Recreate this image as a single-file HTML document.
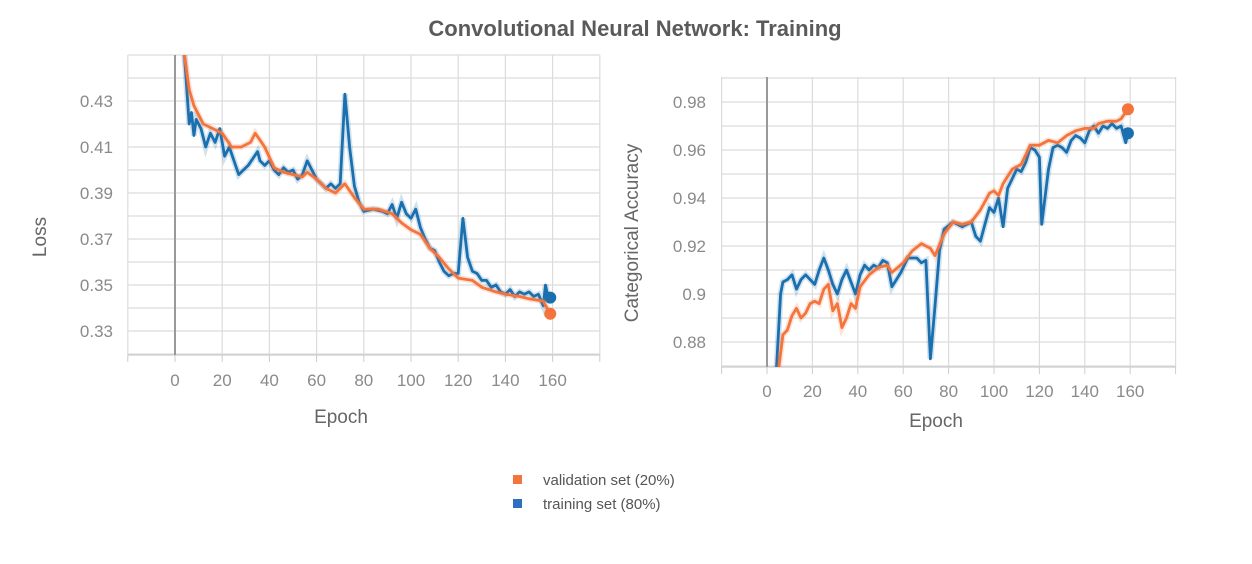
<!DOCTYPE html>
<html><head><meta charset="utf-8"><style>
body{margin:0;background:#fff;width:1252px;height:559px;overflow:hidden;font-family:"Liberation Sans",sans-serif}
svg text{font-family:"Liberation Sans",sans-serif}
</style></head><body>
<svg id="s" width="1252" height="559">
<text x="635" y="36" text-anchor="middle" font-size="22" font-weight="bold" fill="#5a5a5a">Convolutional Neural Network: Training</text>
<g>
<rect x="513" y="475" width="9" height="9" fill="#f4743b"/>
<text x="543" y="485" font-size="15" fill="#555">validation set (20%)</text>
<rect x="513" y="499" width="9" height="9" fill="#2f6fc0"/>
<text x="543" y="509" font-size="15" fill="#555">training set (80%)</text>
</g>
</svg>
<script>
const xTicks=[0,20,40,60,80,100,120,140,160];
const lossTicks=[0.33,0.35,0.37,0.39,0.41,0.43];
const accTicks=[0.88,0.9,0.92,0.94,0.96,0.98];
const accTickLabels=["0.88","0.9","0.92","0.94","0.96","0.98"];
const lossValEpochs=[4,6,8,12,16,20,24,28,32,34,38,42,46,50,54,56,60,64,68,72,76,80,86,92,96,100,104,108,112,116,120,126,130,136,140,146,150,156,159];
const lossVal=[0.45,0.435,0.428,0.42,0.418,0.416,0.41,0.41,0.412,0.416,0.41,0.401,0.399,0.398,0.397,0.399,0.396,0.392,0.39,0.394,0.388,0.383,0.383,0.381,0.377,0.374,0.372,0.366,0.362,0.357,0.353,0.352,0.349,0.347,0.346,0.345,0.344,0.343,0.3375];
const lossTrainEpochs=[4,6,7,8,9,11,13,15,17,19,21,23,25,27,29,31,33,35,36,38,40,42,44,46,48,50,52,54,56,58,60,62,64,66,68,70,72,74,76,78,80,84,88,90,92,94,96,98,100,102,104,106,108,110,112,114,116,118,120,122,124,126,128,130,132,134,136,138,140,142,144,146,148,150,152,154,156,157,158,159];
const lossTrain=[0.45,0.42,0.425,0.415,0.422,0.418,0.41,0.416,0.412,0.418,0.406,0.41,0.404,0.398,0.4,0.402,0.405,0.408,0.404,0.402,0.404,0.4,0.398,0.401,0.399,0.4,0.396,0.398,0.404,0.4,0.396,0.394,0.392,0.394,0.392,0.394,0.433,0.41,0.393,0.386,0.382,0.383,0.382,0.381,0.385,0.379,0.386,0.381,0.379,0.383,0.375,0.37,0.366,0.365,0.36,0.356,0.354,0.355,0.355,0.379,0.362,0.356,0.355,0.352,0.352,0.349,0.35,0.347,0.346,0.348,0.345,0.347,0.346,0.347,0.345,0.346,0.341,0.35,0.345,0.3445];
const accTrainEpochs=[4,6,7,9,11,13,15,17,19,21,23,25,27,29,31,33,35,37,39,41,43,45,47,49,51,53,55,57,59,62,66,68,70,72,74,76,78,82,86,90,92,94,96,98,100,102,104,106,108,110,112,114,116,118,120,121,124,126,128,130,132,134,136,138,140,142,144,146,148,150,152,154,156,158,159];
const accTrain=[0.866,0.9,0.905,0.906,0.908,0.902,0.906,0.908,0.906,0.904,0.91,0.915,0.91,0.904,0.9,0.906,0.91,0.905,0.9,0.908,0.912,0.91,0.912,0.911,0.914,0.913,0.903,0.906,0.909,0.915,0.915,0.913,0.914,0.873,0.895,0.918,0.927,0.93,0.928,0.93,0.924,0.922,0.929,0.936,0.934,0.94,0.928,0.944,0.948,0.952,0.951,0.955,0.961,0.96,0.957,0.929,0.952,0.961,0.962,0.961,0.959,0.964,0.966,0.965,0.963,0.968,0.97,0.967,0.97,0.969,0.971,0.969,0.97,0.963,0.967];
const accValEpochs=[5,7,9,11,13,15,17,19,21,23,25,27,29,31,33,35,37,39,41,45,49,53,55,60,64,68,72,74,78,82,86,90,94,98,100,102,104,108,112,116,120,124,128,132,136,140,144,146,150,154,156,159];
const accVal=[0.868,0.883,0.885,0.891,0.894,0.89,0.892,0.896,0.897,0.896,0.902,0.904,0.893,0.896,0.886,0.89,0.896,0.894,0.903,0.908,0.911,0.912,0.909,0.913,0.918,0.921,0.919,0.916,0.925,0.93,0.929,0.93,0.935,0.942,0.943,0.941,0.946,0.952,0.954,0.962,0.962,0.964,0.963,0.966,0.968,0.969,0.969,0.971,0.972,0.972,0.973,0.977];

const NS="http://www.w3.org/2000/svg";
const svg=document.getElementById('s');
function mk(tag,attrs,parent){const e=document.createElementNS(NS,tag);for(const k in attrs)e.setAttribute(k,attrs[k]);(parent||svg).appendChild(e);return e;}
const ORANGE="#f4743b",BLUE="#1a6fae";

function chart(cfg){
  const g=mk('g',{});
  
  
  const X=e=>cfg.x0+(e-0)*cfg.kx;
  const Y=v=>cfg.yRef-(v-cfg.vRef)*cfg.ky;
  const L=X(-20),R=X(180);
  // horizontal grid
  for(let v=cfg.vMin;v<=cfg.vMax+1e-9;v+=0.01){
    const y=Y(v); if(y<cfg.top-1||y>cfg.bottom+1)continue;
    mk('line',{x1:L,x2:R,y1:y,y2:y,stroke:'#dcdcdc','stroke-width':1.2},g);
  }
  for(let e=-20;e<=180;e+=20){
    const x=X(e);
    mk('line',{x1:x,x2:x,y1:cfg.top,y2:cfg.bottom,stroke:'#dcdcdc','stroke-width':1.2},g);
    mk('line',{x1:x,x2:x,y1:cfg.bottom,y2:cfg.bottom+7,stroke:'#ccc','stroke-width':1},g);
  }
  mk('line',{x1:L,x2:R,y1:cfg.bottom,y2:cfg.bottom,stroke:'#ccc','stroke-width':1.2},g);
  mk('line',{x1:X(0),x2:X(0),y1:cfg.top,y2:cfg.bottom,stroke:'#999','stroke-width':2},g);
  xTicks.forEach(t=>{const tx=mk('text',{x:X(t),y:cfg.bottom+cfg.xLabOff,'text-anchor':'middle','font-size':17,fill:'#8a8a8a'},g);tx.textContent=t;
    
    });
  cfg.yTicks.forEach((t,i)=>{const tx=mk('text',{x:cfg.yLabX,y:Y(t)+6,'text-anchor':'end','font-size':17,fill:'#8a8a8a'},g);tx.textContent=cfg.yLabels?cfg.yLabels[i]:t.toFixed(2);
    
    });
  const xt=mk('text',{x:cfg.xTitleX,y:cfg.xTitleY,'text-anchor':'middle','font-size':19,fill:'#666'},g);xt.textContent='Epoch';
  
  
  const yt=mk('text',{x:0,y:0,'text-anchor':'middle','font-size':19,fill:'#666',transform:`translate(${cfg.yTitleX},${cfg.yTitleY}) rotate(-90)`},g);yt.textContent=cfg.yTitle;
  
  
  const cid=cfg.name+'-clip';
  const cp=mk('clipPath',{id:cid},g);mk('rect',{x:L,y:cfg.top,width:R-L,height:cfg.bottom-cfg.top},cp);
  cfg.series.forEach(s=>{
    const d=s.e.map((e,i)=>(i?'L':'M')+X(e).toFixed(1)+','+Y(s.v[i]).toFixed(1)).join('');
    const bg=mk('path',{d,fill:'none',stroke:s.c,'stroke-opacity':0.2,'stroke-width':6,'clip-path':`url(#${cid})`},g);
    
    
    const p=mk('path',{d,fill:'none',stroke:s.c,'stroke-width':2.8,'stroke-linejoin':'round','clip-path':`url(#${cid})`},g);
    
    
    const n=s.e.length-1;
    const c=mk('circle',{cx:X(s.e[n]),cy:Y(s.v[n]),r:6,fill:s.c},g);
    
    
  });
}
chart({name:'loss-chart',x0:175,kx:2.36,yRef:331,vRef:0.33,ky:2300,top:55,bottom:355,vMin:0.32,vMax:0.45,
  yTicks:lossTicks,yLabX:113,xLabOff:31,xTitleX:341,xTitleY:423,yTitle:'Loss',yTitleX:46,yTitleY:237,
  series:[{e:lossTrainEpochs,v:lossTrain,c:BLUE,n:'loss-training'},{e:lossValEpochs,v:lossVal,c:ORANGE,n:'loss-validation'}]});
chart({name:'accuracy-chart',x0:767,kx:2.27,yRef:102,vRef:0.98,ky:2400,top:77,bottom:367,vMin:0.87,vMax:0.99,
  yTicks:accTicks,yLabels:accTickLabels,yLabX:706,xLabOff:30,xTitleX:936,xTitleY:427,yTitle:'Categorical Accuracy',yTitleX:638,yTitleY:233,
  series:[{e:accTrainEpochs,v:accTrain,c:BLUE,n:'accuracy-training'},{e:accValEpochs,v:accVal,c:ORANGE,n:'accuracy-validation'}]});
</script>
</body></html>
